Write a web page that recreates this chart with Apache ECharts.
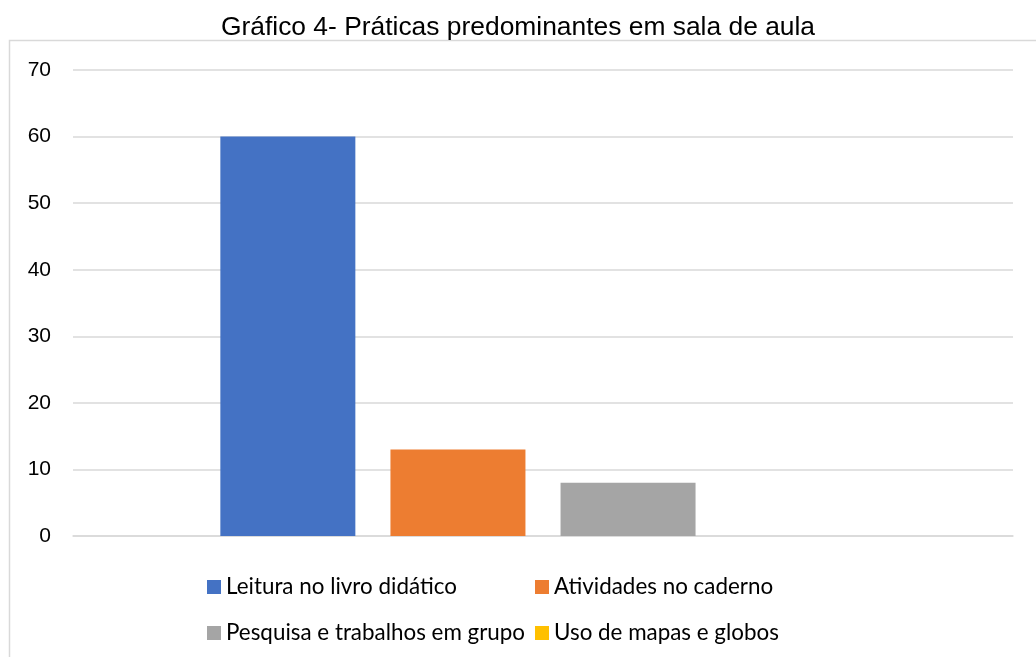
<!DOCTYPE html>
<html>
<head>
<meta charset="utf-8">
<script src="https://cdn.jsdelivr.net/npm/echarts@6/dist/echarts.min.js"></script>
<style>
  html, body { margin: 0; padding: 0; background: #fff; }
  #chart { width: 1036px; height: 657px; }
</style>
</head>
<body>
<div id="chart"></div>
<script>
// dados do gráfico
const categories = [''];
const seriesNames = ['Leitura no livro didático', 'Atividades no caderno', 'Pesquisa e trabalhos em grupo', 'Uso de mapas e globos'];
const seriesValues = [60, 13, 8, 0];
const seriesColors = ['#4472c4', '#ed7d31', '#a5a5a5', '#ffc000'];
const yTicks = [0, 10, 20, 30, 40, 50, 60, 70];

const chart = echarts.init(document.getElementById('chart'));

const series = seriesNames.map((name, i) => ({
  name: name,
  type: 'bar',
  data: [seriesValues[i]],
  barWidth: 135,
  barGap: '26%',
  itemStyle: { color: seriesColors[i] }
}));

const legendText = { color: '#000', fontSize: 22.4, fontFamily: 'Lato, "Open Sans", sans-serif' };

chart.setOption({
  animation: false,
  title: {
    text: 'Gráfico 4- Práticas predominantes em sala de aula',
    left: 'center',
    top: 15,
    padding: 0,
    textStyle: { color: '#000', fontSize: 26.4, fontWeight: 'normal', fontFamily: '"Liberation Sans", Arial, sans-serif' }
  },
  graphic: [{
    type: 'rect',
    shape: { x: 9.5, y: 40.5, width: 1040, height: 640 },
    style: { fill: 'none', stroke: '#d9d9d9', lineWidth: 1.5 },
    silent: true
  }],
  legend: [{
    orient: 'vertical',
    left: 207,
    top: 576,
    padding: 0,
    itemWidth: 14,
    itemHeight: 14,
    itemGap: 24,
    icon: 'rect',
    data: [seriesNames[0], seriesNames[2]],
    textStyle: legendText
  }, {
    orient: 'vertical',
    left: 535,
    top: 576,
    padding: 0,
    itemWidth: 14,
    itemHeight: 14,
    itemGap: 24,
    icon: 'rect',
    data: [seriesNames[1], seriesNames[3]],
    textStyle: legendText
  }],
  grid: { left: 73, right: 23, top: 70, bottom: 121, containLabel: false },
  xAxis: {
    type: 'category',
    data: categories,
    axisLine: { lineStyle: { color: '#d9d9d9', width: 1.5 } },
    axisTick: { show: false },
    axisLabel: { show: false }
  },
  yAxis: {
    type: 'value',
    min: yTicks[0],
    max: yTicks[yTicks.length - 1],
    interval: 10,
    axisLine: { show: false },
    axisTick: { show: false },
    axisLabel: { color: '#000', fontSize: 21, margin: 22, fontFamily: '"Liberation Sans", Arial, sans-serif' },
    splitLine: { lineStyle: { color: '#d9d9d9', width: 1.5 } }
  },
  series: series
});
</script>
</body>
</html>
